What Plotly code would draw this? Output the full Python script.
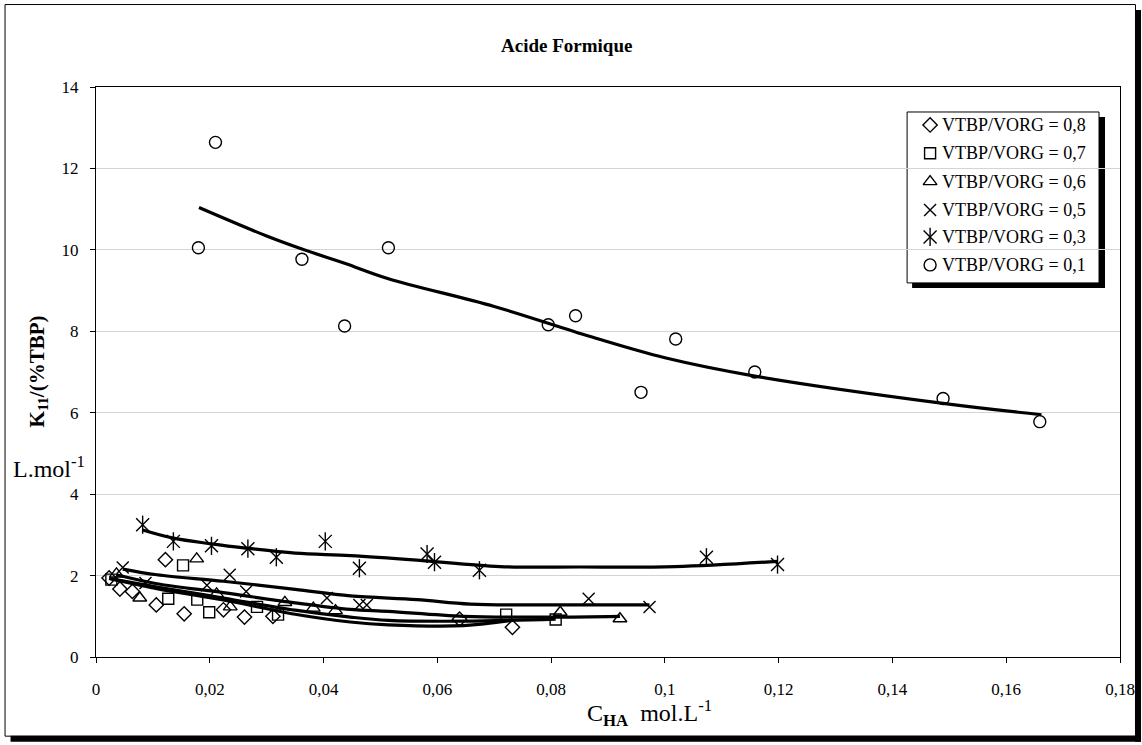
import plotly.graph_objects as go

# ---------------- data ----------------
s08_x = [0.0023, 0.0042, 0.0064, 0.0106, 0.0122, 0.0155, 0.0224, 0.0261, 0.0311, 0.0639, 0.0732]
s08_y = [1.94, 1.67, 1.61, 1.28, 2.39, 1.06, 1.16, 0.98, 1.00, 0.93, 0.73]

s07_x = [0.0027, 0.0127, 0.0153, 0.0178, 0.0199, 0.0283, 0.0320, 0.0721, 0.0808]
s07_y = [1.90, 1.43, 2.25, 1.41, 1.10, 1.23, 1.04, 1.04, 0.92]

s06_x = [0.0036, 0.0077, 0.0177, 0.0212, 0.0236, 0.0332, 0.0382, 0.0421, 0.0816, 0.0921]
s06_y = [2.04, 1.45, 2.41, 1.55, 1.23, 1.34, 1.20, 1.14, 1.10, 0.94]

s05_x = [0.0047, 0.0087, 0.0195, 0.0235, 0.0264, 0.0406, 0.0463, 0.0476, 0.0866, 0.0973]
s05_y = [2.20, 1.82, 1.76, 2.02, 1.61, 1.45, 1.28, 1.28, 1.43, 1.23]

s03_x = [0.0082, 0.0136, 0.0203, 0.0267, 0.0317, 0.0403, 0.0463, 0.0582, 0.0595, 0.0674, 0.1073, 0.1198]
s03_y = [3.25, 2.84, 2.73, 2.66, 2.45, 2.84, 2.18, 2.53, 2.33, 2.13, 2.45, 2.27]

s01_x = [0.0180, 0.0210, 0.0362, 0.0437, 0.0514, 0.0795, 0.0843, 0.0958, 0.1019, 0.1158, 0.1489, 0.1659]
s01_y = [10.05, 12.64, 9.77, 8.13, 10.05, 8.16, 8.38, 6.50, 7.81, 7.00, 6.35, 5.78]

# trend lines
t01_x = [0.0181, 0.030, 0.0362, 0.0437, 0.0514, 0.070, 0.0869, 0.100, 0.1158, 0.1489, 0.1662]
t01_y = [11.04, 10.34, 10.02, 9.67, 9.29, 8.61, 7.87, 7.35, 6.90, 6.23, 5.95]
t03_x = [0.0082, 0.0136, 0.0203, 0.0267, 0.0350, 0.0447, 0.0564, 0.0710, 0.0850, 0.1018, 0.1198]
t03_y = [3.12, 2.92, 2.78, 2.67, 2.55, 2.49, 2.38, 2.22, 2.21, 2.22, 2.35]
t05_x = [0.0047, 0.0107, 0.0224, 0.0350, 0.0447, 0.0564, 0.0658, 0.0800, 0.0973]
t05_y = [2.16, 2.02, 1.86, 1.66, 1.50, 1.41, 1.30, 1.28, 1.28]
t06_x = [0.0036, 0.0107, 0.0224, 0.0350, 0.0447, 0.0514, 0.0646, 0.0800, 0.0921]
t06_y = [2.02, 1.80, 1.58, 1.33, 1.17, 1.12, 1.00, 0.98, 1.00]
t07_x = [0.0027, 0.0107, 0.0224, 0.0350, 0.0447, 0.0514, 0.0646, 0.0808]
t07_y = [1.92, 1.72, 1.45, 1.15, 0.98, 0.90, 0.88, 0.93]
t08_x = [0.0023, 0.0107, 0.0224, 0.0350, 0.0447, 0.0514, 0.0646, 0.0732]
t08_y = [1.93, 1.68, 1.40, 1.05, 0.86, 0.79, 0.77, 0.90]

labels = ["VTBP/VORG = 0,8", "VTBP/VORG = 0,7", "VTBP/VORG = 0,6",
          "VTBP/VORG = 0,5", "VTBP/VORG = 0,3", "VTBP/VORG = 0,1"]
symbols = ["diamond-open", "square-open", "triangle-up-open", "x-thin-open", "x-thin-open", "circle-open"]

title_text = "Acide Formique"
x_ticks = [0, 0.02, 0.04, 0.06, 0.08, 0.1, 0.12, 0.14, 0.16, 0.18]
y_ticks = [0, 2, 4, 6, 8, 10, 12, 14]

# ---------------- geometry helpers ----------------
W, H = 1142, 745
PL, PR, PT, PB = 95.5, 1120.0, 87.0, 657.3
def px2p(px):
    return (px - PL) / (PR - PL)
def py2p(py):
    return (PB - py) / (PB - PT)

FONT = "Liberation Serif"
fig = go.Figure()

series = [(s08_x, s08_y), (s07_x, s07_y), (s06_x, s06_y), (s05_x, s05_y), (s03_x, s03_y), (s01_x, s01_y)]
trends = [(t08_x, t08_y), (t07_x, t07_y), (t06_x, t06_y), (t05_x, t05_y), (t03_x, t03_y), (t01_x, t01_y)]

for tx, ty in trends:
    fig.add_trace(go.Scatter(x=tx, y=ty, mode="lines", line=dict(color="black", width=3.2),
                             showlegend=False, hoverinfo="skip", line_shape="spline"))

msizes = [11, 11, 12, 12, 13, 12]
for i, ((sx, sy), sym) in enumerate(zip(series, symbols)):
    fig.add_trace(go.Scatter(x=sx, y=sy, mode="markers", name=labels[i], showlegend=False,
                             marker=dict(symbol=sym, size=msizes[i], color="black",
                                         line=dict(color="black", width=1.4))))
    if i == 4:  # asterisk: x plus vertical bar
        fig.add_trace(go.Scatter(x=sx, y=sy, mode="markers", showlegend=False,
                                 marker=dict(symbol="line-ns-open", size=msizes[i], color="black",
                                             line=dict(color="black", width=1.4))))

# ---------------- manual legend ----------------
leg_rows = [125, 153.3, 181.7, 210, 237, 265]
lx = 930
for i, py in enumerate(leg_rows):
    fig.add_trace(go.Scatter(x=[px2p(lx)], y=[py2p(py)], xaxis="x2", yaxis="y2", mode="markers",
                             showlegend=False, hoverinfo="skip",
                             marker=dict(symbol=symbols[i], size=msizes[i], color="black",
                                         line=dict(color="black", width=1.4))))
    if i == 4:
        fig.add_trace(go.Scatter(x=[px2p(lx)], y=[py2p(py)], xaxis="x2", yaxis="y2", mode="markers",
                                 showlegend=False, hoverinfo="skip",
                                 marker=dict(symbol="line-ns-open", size=msizes[i], color="black",
                                             line=dict(color="black", width=1.4))))
    fig.add_annotation(x=px2p(940), y=py2p(py), xref="paper", yref="paper", text=labels[i],
                       showarrow=False, xanchor="left", yanchor="middle",
                       font=dict(family=FONT, size=18, color="black"))

shapes = []
# legend shadow and box
shapes.append(dict(type="rect", xref="paper", yref="paper", layer="between",
                   x0=px2p(912), x1=px2p(1105), y0=py2p(288), y1=py2p(117),
                   fillcolor="black", line=dict(width=0)))
shapes.append(dict(type="rect", xref="paper", yref="paper", layer="between",
                   x0=px2p(907), x1=px2p(1099), y0=py2p(283), y1=py2p(112),
                   fillcolor="white", line=dict(color="black", width=1)))
# outer chart frame with shadow
shapes.append(dict(type="rect", xref="paper", yref="paper", layer="below",
                   x0=px2p(1135), x1=px2p(1141), y0=py2p(742), y1=py2p(10),
                   fillcolor="black", line=dict(width=0)))
shapes.append(dict(type="rect", xref="paper", yref="paper", layer="below",
                   x0=px2p(10), x1=px2p(1141), y0=py2p(742), y1=py2p(736),
                   fillcolor="black", line=dict(width=0)))
shapes.append(dict(type="rect", xref="paper", yref="paper", layer="below",
                   x0=px2p(4.5), x1=px2p(1135.5), y0=py2p(736.5), y1=py2p(4.5),
                   fillcolor="rgba(0,0,0,0)", line=dict(color="black", width=1)))

# titles
fig.add_annotation(x=px2p(566), y=py2p(45), xref="paper", yref="paper",
                   xanchor="center", yanchor="middle",
                   text="<b>" + title_text + "</b>", showarrow=False,
                   font=dict(family=FONT, size=19, color="black"))
fig.add_annotation(x=px2p(37), y=py2p(372), xref="paper", yref="paper",
                   xanchor="center", yanchor="middle",
                   text="<b>K<sub>11</sub>/(%TBP)</b>", textangle=-90, showarrow=False,
                   font=dict(family=FONT, size=21, color="black"))
fig.add_annotation(x=px2p(10), y=py2p(467), xref="paper", yref="paper",
                   xanchor="left", yanchor="middle",
                   text="L.mol<sup>-1</sup>", showarrow=False,
                   font=dict(family=FONT, size=24, color="black"))
fig.add_annotation(x=px2p(585), y=py2p(713), xref="paper", yref="paper",
                   xanchor="left", yanchor="middle",
                   text="C<sub><b>HA</b></sub>  mol.L<sup>-1</sup>", showarrow=False,
                   font=dict(family=FONT, size=24, color="black"))

fig.update_layout(
    width=W, height=H,
    margin=dict(l=PL, r=W - PR, t=PT, b=H - PB, autoexpand=False),
    paper_bgcolor="white", plot_bgcolor="white",
    separators=", ",
    showlegend=False,
    shapes=shapes,
    font=dict(family=FONT, size=16, color="black"),
    xaxis=dict(range=[0, 0.18], tickvals=x_ticks, showgrid=False, zeroline=False,
               showline=True, linecolor="black", linewidth=1, mirror=True,
               ticks="outside", ticklen=5, tickcolor="black", ticklabelstandoff=12,
               tickfont=dict(family=FONT, size=17, color="black")),
    yaxis=dict(range=[0, 14], tickvals=y_ticks, showgrid=True, gridcolor="#d4d4d4", gridwidth=1,
               zeroline=False, showline=True, linecolor="black", linewidth=1, mirror=True,
               ticks="outside", ticklen=5, tickcolor="black", ticklabelstandoff=8,
               tickfont=dict(family=FONT, size=17, color="black")),
    xaxis2=dict(overlaying="x", range=[0, 1], visible=False, fixedrange=True),
    yaxis2=dict(overlaying="y", range=[0, 1], visible=False, fixedrange=True),
)

fig.write_html("out.html", config={"displayModeBar": False},
               post_script="document.body.style.margin='0';document.body.style.overflow='hidden';")
